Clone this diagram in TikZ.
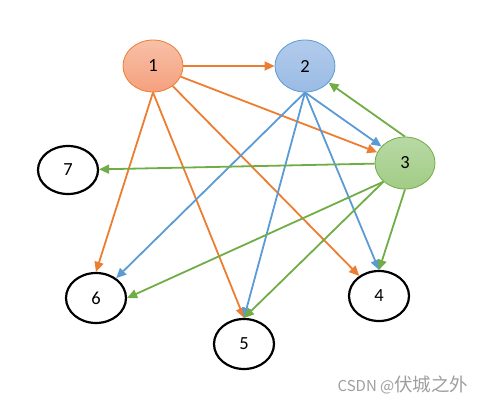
\documentclass[tikz,border=0pt]{standalone}
\usepackage{fontspec}
\setmainfont{Carlito}
\newfontfamily\cjk{Noto Sans CJK SC}
\usepackage{xcolor}
\usetikzlibrary{arrows.meta,shapes.geometric}

\definecolor{orangeline}{HTML}{ED7D31}
\definecolor{blueline}{HTML}{5B9BD5}
\definecolor{greenline}{HTML}{70AD47}
\definecolor{orangetop}{HTML}{F8C0A7}
\definecolor{orangebot}{HTML}{F4A07E}
\definecolor{bluetop}{HTML}{B2CBEC}
\definecolor{bluebot}{HTML}{9ABBE4}
\definecolor{greentop}{HTML}{B8D9A5}
\definecolor{greenbot}{HTML}{A1CC85}

\begin{document}
\begin{tikzpicture}[x=1pt, y=-1pt,
  vert/.style={ellipse, minimum width=60pt, minimum height=50pt, inner sep=0pt,
               font=\fontsize{18.5}{20}\selectfont},
  plain/.style={vert, draw=black, line width=2.2pt, fill=white},
  orangev/.style={vert, draw=orangeline, line width=0.8pt, top color=orangetop, bottom color=orangebot},
  bluev/.style={vert, draw=blueline, line width=0.8pt, top color=bluetop, bottom color=bluebot},
  greenv/.style={vert, draw=greenline, line width=0.8pt, top color=greentop, bottom color=greenbot},
  arr/.style={-{Triangle[length=10pt,width=9pt]}, line width=1.8pt},
  oarr/.style={arr, orangeline},
  barr/.style={arr, blueline},
  garr/.style={arr, greenline}
]
\useasboundingbox (0,0) rectangle (489,407);

\node[orangev, minimum height=52pt] (n1) at (153,66) {1};
\node[bluev, minimum height=52pt] (n2) at (305,66) {2};
\node[greenv, minimum height=52pt] (n3) at (405,163) {3};
\node[plain] (n4) at (379,296) {4};
\node[plain] (n5) at (244,344) {5};
\node[plain] (n6) at (96,298) {6};
\node[plain, minimum height=48pt] (n7) at (68,170) {7};

% edges from 1
\draw[oarr] (n1) -- (n2);
\draw[oarr] (n1) -- (n3);
\draw[oarr] (n1) -- (n4);
\draw[oarr] (n1.south) -- (n5.north);
\draw[oarr] (n1.south) -- (n6.north);

% edges from 2
\draw[barr] (n2.south) -- (n3);
\draw[barr] (n2.south) -- (n4.north);
\draw[barr] (n2.south) -- (n5.north);
\draw[barr] (n2.south) -- (n6);

% edges from 3
\draw[garr] (n3.north) -- (n2);
\draw[garr] (n3) -- (n7);
\draw[garr] (n3.south west) -- (n6.east);
\draw[garr] (n3.south west) -- (n5.north);
\draw[garr] (n3.south) -- (n4.north);

\node[font=\cjk, text=black!38, inner sep=0pt] (mark) at (403,385)
  {{\fontsize{15}{17}\selectfont CSDN @}{\fontsize{18.5}{20}\selectfont 伏城之外}};
\end{tikzpicture}
\end{document}
